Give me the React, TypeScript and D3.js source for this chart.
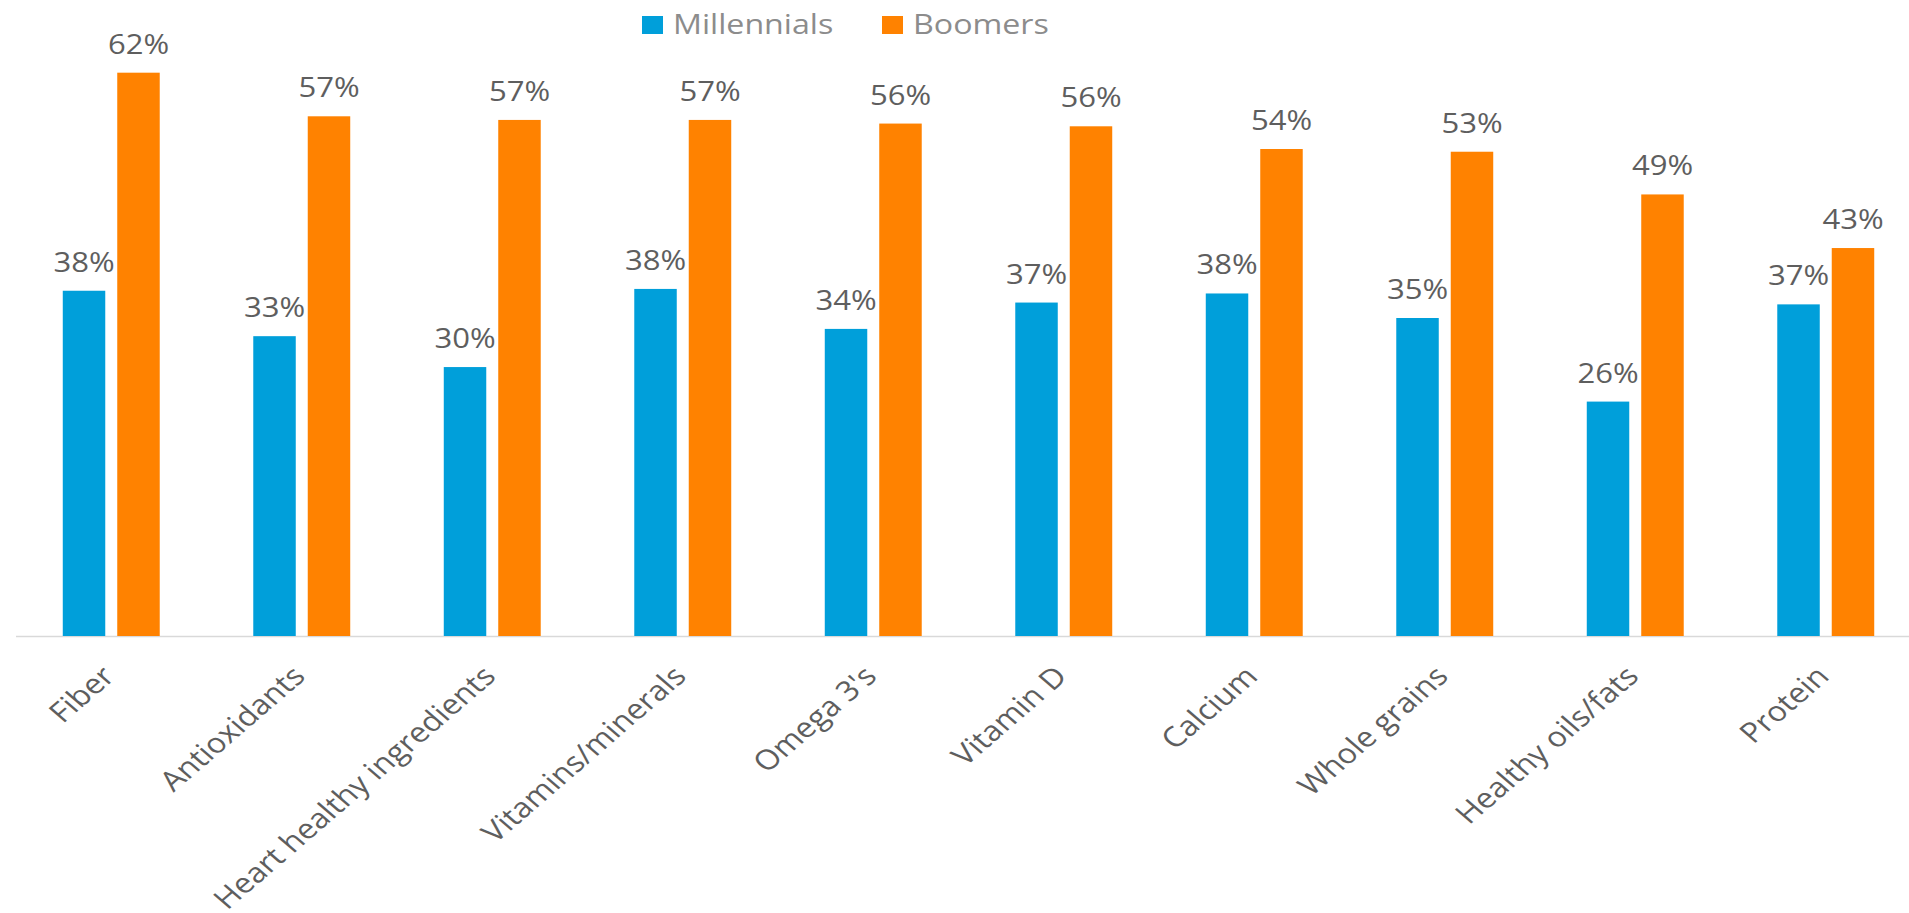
import React from "react";
import * as d3 from "d3";

const categories = [
  "Fiber",
  "Antioxidants",
  "Heart healthy ingredients",
  "Vitamins/minerals",
  "Omega 3's",
  "Vitamin D",
  "Calcium",
  "Whole grains",
  "Healthy oils/fats",
  "Protein",
];
const seriesNames = ["Millennials", "Boomers"];
const millennials = [38.0, 33.0, 29.6, 38.2, 33.8, 36.7, 37.7, 35.0, 25.8, 36.5];
const boomers = [62.0, 57.2, 56.8, 56.8, 56.4, 56.1, 53.6, 53.3, 48.6, 42.7];
const colors = ["#009FDA", "#FF8200"];

const W = 1909;
const H = 913;
const FONT = "'Open Sans', 'Noto Sans', sans-serif";
const SX = 1.15;

export default function App() {
  const baseY = 636;
  const x0 = d3
    .scaleBand<string>()
    .domain(categories)
    .range([16, 16 + 190.5 * 10])
    .paddingInner(0.491)
    .paddingOuter(0.2455);
  const x1 = d3
    .scaleBand<string>()
    .domain(seriesNames)
    .range([0, x0.bandwidth()])
    .paddingInner(0.22)
    .paddingOuter(0);
  const y = d3.scaleLinear().domain([0, 70]).range([baseY, 0]);
  const series = [millennials, boomers];

  return (
    <svg
      width={W}
      height={H}
      style={{ position: "absolute", left: 0, top: 0, background: "#fff" }}
      fontFamily={FONT}
    >
      <rect x={0} y={0} width={W} height={H} fill="#fff" />
      <line x1={16} x2={W} y1={baseY + 0.5} y2={baseY + 0.5} stroke="#D9D9D9" strokeWidth={1.5} />
      {categories.map((c, i) => (
        <g key={c}>
          {seriesNames.map((s, j) => {
            const v = series[j][i];
            const bx = (x0(c) as number) + (x1(s) as number);
            const bw = x1.bandwidth();
            return (
              <g key={s}>
                <rect x={bx} y={y(v)} width={bw} height={baseY - y(v)} fill={colors[j]} />
                <text
                  transform={`translate(${bx + bw / 2},${y(v) - 19}) scale(${SX},1)`}
                  textAnchor="middle"
                  fontSize={27}
                  fill="#5E5E5E"
                >
                  {Math.round(v)}%
                </text>
              </g>
            );
          })}
          <text
            transform={`translate(${(x0(c) as number) + x0.bandwidth() / 2 + 5},${678}) scale(1.16,1) rotate(-45)`}
            textAnchor="end"
            fontSize={27.8}
            fill="#5E5E5E"
          >
            {c}
          </text>
        </g>
      ))}
      {/* legend */}
      {seriesNames.map((s, j) => {
        const lx = [642, 882][j];
        return (
          <g key={s}>
            <rect x={lx} y={16} width={21} height={18} fill={colors[j]} />
            <text
              transform={`translate(${lx + 31},${34}) scale(${SX},1)`}
              fontSize={28}
              fill="#8C8C8C"
            >
              {s}
            </text>
          </g>
        );
      })}
    </svg>
  );
}
